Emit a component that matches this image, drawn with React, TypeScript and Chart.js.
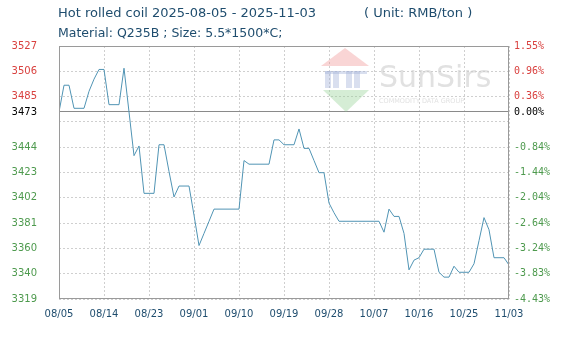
import React, { useEffect, useRef } from "react";
import { Chart, registerables } from "chart.js";

Chart.register(...registerables);

const titleLine1 = "Hot rolled coil 2025-08-05 - 2025-11-03";
const titleUnit = "( Unit: RMB/ton )";
const titleLine2 = "Material: Q235B ; Size: 5.5*1500*C;";

const xTickLabels = ["08/05", "08/14", "08/23", "09/01", "09/10", "09/19", "09/28", "10/07", "10/16", "10/25", "11/03"];
const daysPerTick = 9;

// daily price, one value per day from 2025-08-05 to 2025-11-03
const prices = [
  3473, 3495, 3495, 3476, 3476, 3476, 3490, 3500, 3508, 3508,
  3479, 3479, 3479, 3509, 3473, 3437, 3445, 3406, 3406, 3406,
  3446, 3446, 3424, 3403, 3412, 3412, 3412, 3388, 3363, 3373,
  3383, 3393, 3393, 3393, 3393, 3393, 3393, 3433, 3430, 3430,
  3430, 3430, 3430, 3450, 3450, 3446, 3446, 3446, 3459, 3443,
  3443, 3433, 3423, 3423, 3398, 3390, 3383, 3383, 3383, 3383,
  3383, 3383, 3383, 3383, 3383, 3374, 3393, 3387, 3387, 3373,
  3343, 3351, 3353, 3360, 3360, 3360, 3341, 3337, 3337, 3346,
  3341, 3341, 3341, 3348, 3367, 3386, 3376, 3353, 3353, 3353,
  3347,
];

const baseline = 3473;
const yMin = 3319;
const yMax = 3527.3;
const yTickValues = [3319, 3339.83, 3360.66, 3381.49, 3402.32, 3423.15, 3443.98, 3464.81, 3473, 3485.64, 3506.47, 3527.3];
const leftTickLabels = ["3319", "3340", "3360", "3381", "3402", "3423", "3444", "", "3473", "3485", "3506", "3527"];
const rightTickLabels = ["-4.43%", "-3.83%", "-3.24%", "-2.64%", "-2.04%", "-1.44%", "-0.84%", "", "0.00%", "0.36%", "0.96%", "1.55%"];

const RED = "#d9413f";
const GREEN = "#4e9a4e";
const BLACK = "#000000";
const NAVY = "#1f4d6e";
const GRID = "#cfcfcf";

function tickColor(ctx: any) {
  const v = ctx.tick ? ctx.tick.value : 0;
  if (Math.abs(v - baseline) < 0.01) return BLACK;
  return v > baseline ? RED : GREEN;
}

const decorPlugin = {
  id: "decor",
  beforeDatasetsDraw(chart: any) {
    const ctx = chart.ctx;
    ctx.save();
    // watermark logo
    ctx.fillStyle = "rgba(240,150,150,0.4)";
    ctx.beginPath();
    ctx.moveTo(345, 48);
    ctx.lineTo(369, 66);
    ctx.lineTo(321, 66);
    ctx.closePath();
    ctx.fill();
    ctx.fillStyle = "rgba(160,175,215,0.4)";
    const bars = [325, 333, 346, 354];
    for (const b of bars) ctx.fillRect(b, 71, 6, 17);
    ctx.fillRect(325, 71, 42, 3);
    ctx.fillStyle = "rgba(150,210,150,0.4)";
    ctx.beginPath();
    ctx.moveTo(323, 90);
    ctx.lineTo(369, 90);
    ctx.lineTo(346, 112);
    ctx.closePath();
    ctx.fill();
    ctx.fillStyle = "rgba(205,205,205,0.6)";
    ctx.font = "30px 'DejaVu Sans'";
    ctx.textBaseline = "alphabetic";
    ctx.fillText("SunSirs", 379, 87);
    ctx.font = "6.5px 'DejaVu Sans'";
    ctx.fillText("COMMODITY DATA GROUP", 379, 103);
    ctx.restore();
  },
  afterDraw(chart: any) {
    const ctx = chart.ctx;
    const a = chart.chartArea;
    ctx.save();
    ctx.strokeStyle = "#9a9a9a";
    ctx.lineWidth = 1;
    ctx.setLineDash([]);
    const l = Math.round(a.left) + 0.5;
    const r = Math.round(a.right) - 0.5;
    const t = Math.round(a.top) + 0.5;
    const b = Math.round(a.bottom) - 0.5;
    ctx.strokeRect(l, t, r - l, b - t);
    ctx.fillStyle = NAVY;
    ctx.textBaseline = "alphabetic";
    ctx.textAlign = "left";
    ctx.font = "13px 'DejaVu Sans'";
    ctx.fillText(titleLine1, 58, 17);
    ctx.fillText(titleUnit, 364, 17);
    ctx.font = "12.5px 'DejaVu Sans'";
    ctx.fillText(titleLine2, 58, 37);
    ctx.restore();
  },
};

export default function App() {
  const ref = useRef<HTMLCanvasElement | null>(null);

  useEffect(() => {
    if (!ref.current) return;
    const data = prices.map((p, i) => ({ x: i, y: p }));
    const chart = new Chart(ref.current, {
      type: "line",
      data: {
        datasets: [
          {
            data,
            borderColor: "#5094b4",
            borderWidth: 1,
            pointRadius: 0,
            tension: 0,
            fill: false,
          },
        ],
      },
      options: {
        animation: false,
        responsive: false,
        devicePixelRatio: 1,
        layout: { padding: { top: 46, left: 0, right: 0, bottom: 0 } },
        plugins: { legend: { display: false }, tooltip: { enabled: false }, title: { display: false } },
        scales: {
          x: {
            type: "linear",
            min: 0,
            max: (xTickLabels.length - 1) * daysPerTick,
            afterBuildTicks: (scale: any) => {
              scale.ticks = xTickLabels.map((_, i) => ({ value: i * daysPerTick }));
            },
            afterFit: (scale: any) => {
              scale.height = 43;
            },
            ticks: {
              callback: (_v: any, i: number) => xTickLabels[i],
              autoSkip: false,
              maxRotation: 0,
              padding: 9,
              color: NAVY,
              font: { family: "'DejaVu Sans'", size: 10 },
            },
            grid: { color: GRID, drawTicks: false, lineWidth: 1 },
            border: { display: false, dash: [2, 2] },
          },
          y: {
            type: "linear",
            position: "left",
            min: yMin,
            max: yMax,
            afterBuildTicks: (scale: any) => {
              scale.ticks = yTickValues.map((v) => ({ value: v }));
            },
            afterFit: (scale: any) => {
              scale.width = 59;
            },
            ticks: {
              callback: (_v: any, i: number) => leftTickLabels[i],
              autoSkip: false,
              padding: 22,
              color: tickColor,
              font: { family: "'DejaVu Sans'", size: 10 },
            },
            grid: {
              drawTicks: false,
              lineWidth: 1,
              color: (ctx: any) => (ctx.tick && Math.abs(ctx.tick.value - baseline) < 0.01 ? "#8a8a8a" : GRID),
            },
            border: {
              display: false,
              dash: (ctx: any) => (ctx.tick && Math.abs(ctx.tick.value - baseline) < 0.01 ? [] : [2, 2]),
            },
          },
          y2: {
            type: "linear",
            position: "right",
            min: yMin,
            max: yMax,
            afterBuildTicks: (scale: any) => {
              scale.ticks = yTickValues.map((v) => ({ value: v }));
            },
            afterFit: (scale: any) => {
              scale.width = 64;
            },
            ticks: {
              callback: (_v: any, i: number) => rightTickLabels[i],
              autoSkip: false,
              padding: 5,
              color: tickColor,
              font: { family: "'DejaVu Sans Mono'", size: 10 },
            },
            grid: { drawOnChartArea: false, drawTicks: false },
            border: { display: false },
          },
        },
      },
      plugins: [decorPlugin],
    });
    return () => chart.destroy();
  }, []);

  return (
    <div style={{ position: "absolute", left: 0, top: 0, width: 573, height: 342, background: "#fff" }}>
      <canvas ref={ref} width={573} height={342} style={{ display: "block" }} />
    </div>
  );
}
